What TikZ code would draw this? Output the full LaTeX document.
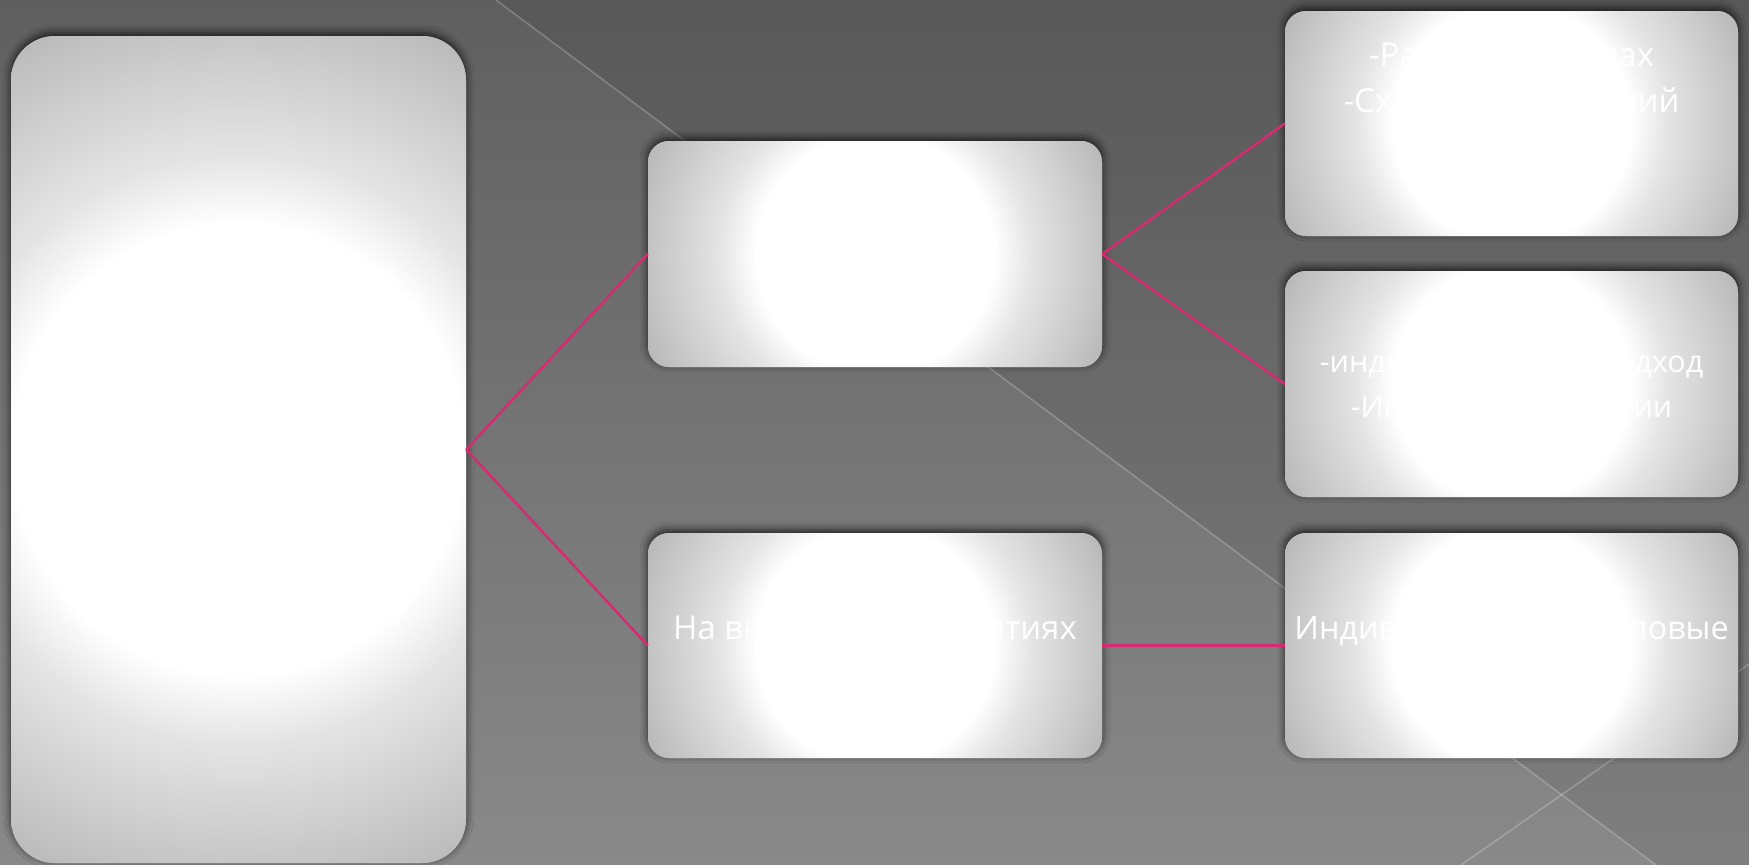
\documentclass[tikz,border=0pt]{standalone}
\usepackage{fontspec}
\setmainfont{Open Sans}
\usetikzlibrary{shadows.blur}
\definecolor{boxedge}{HTML}{B2B2B2}
\definecolor{boxmid}{HTML}{E4E4E4}
\definecolor{boxouter}{HTML}{C2C2C2}
\definecolor{crim}{HTML}{D82A70}
\definecolor{bgtop}{HTML}{5F5F5F}
\definecolor{bgbottom}{HTML}{898989}
\pgfdeclareradialshading{boxglow}{\pgfpoint{0bp}{0bp}}{color(0bp)=(white); color(11.5bp)=(white); color(15bp)=(boxmid); color(22bp)=(boxouter); color(25bp)=(boxedge); color(50bp)=(boxedge)}
\tikzset{
  glowbox/.style={draw=none, fill=boxedge, rounded corners=21pt, inner sep=0pt,
    blur shadow={shadow xshift=0pt, shadow yshift=3pt, shadow blur radius=8pt, shadow opacity=75},
    path picture={\shade[shading=boxglow] (path picture bounding box.center) circle[radius=#1];}},
  glowbox/.default=260pt,
  conn/.style={draw=crim, line width=2.4pt},
  boxtext/.style={text=white, font=\fontsize{33}{46}\selectfont, align=center, inner sep=0pt},
  smalltext/.style={boxtext, font=\fontsize{30.5}{45}\selectfont},
  bgline/.style={draw=white, draw opacity=0.22, line width=1.6pt}
}
\begin{document}
\begin{tikzpicture}[x=1pt,y=-1pt]
\useasboundingbox (0,0) rectangle (1749,865);
% background
\shade[top color=bgtop, bottom color=bgbottom] (0,0) rectangle (1749,865);
\fill[black, opacity=0.07] (496,0) -- (1749,0) -- (1749,865) -- (1656,865) -- cycle;
\coordinate (l1a) at (496,0);
\coordinate (l1b) at (1656,865);
\coordinate (l2a) at (1461,865);
\coordinate (l2b) at (1749,664);
\draw[bgline] (l1a) -- (l1b);
\draw[bgline] (l2a) -- (l2b);
% boxes
\node[glowbox=490pt, rounded corners=44pt, minimum width=455pt, minimum height=827pt] (lb) at (238.5,449.5) {};
\node[glowbox, minimum width=454pt, minimum height=226pt] (mt) at (875,254) {};
\node[glowbox, minimum width=454pt, minimum height=225pt] (mb) at (875,645.5) {};
\node[glowbox, minimum width=453pt, minimum height=225pt] (r1) at (1511.5,123.5) {};
\node[glowbox, minimum width=453pt, minimum height=226pt] (r2) at (1511.5,384) {};
\node[glowbox, minimum width=453pt, minimum height=225pt] (r3) at (1511.5,645.5) {};
% connectors
\draw[conn] (lb.east) -- (mt.west);
\draw[conn] (lb.east) -- (mb.west);
\draw[conn] (mt.east) -- (r1.west);
\draw[conn] (mt.east) -- (r2.west);
\draw[conn] (mb.east) -- (r3.west);
% texts
\node[boxtext] (t1) at (1511.5,80.5) {-Работа в группах\\-Схемы рассуждений};
\node[smalltext] (t2) at (1511.5,387.5) {-индивидуальный подход\\-Игровые технологии};
\node[boxtext] (t3) at (875,632) {На внеурочных занятиях};
\node[boxtext, font=\fontsize{32.3}{46}\selectfont] (t4) at (1511.5,632) {Индивидуально-групповые};
\end{tikzpicture}
\end{document}
